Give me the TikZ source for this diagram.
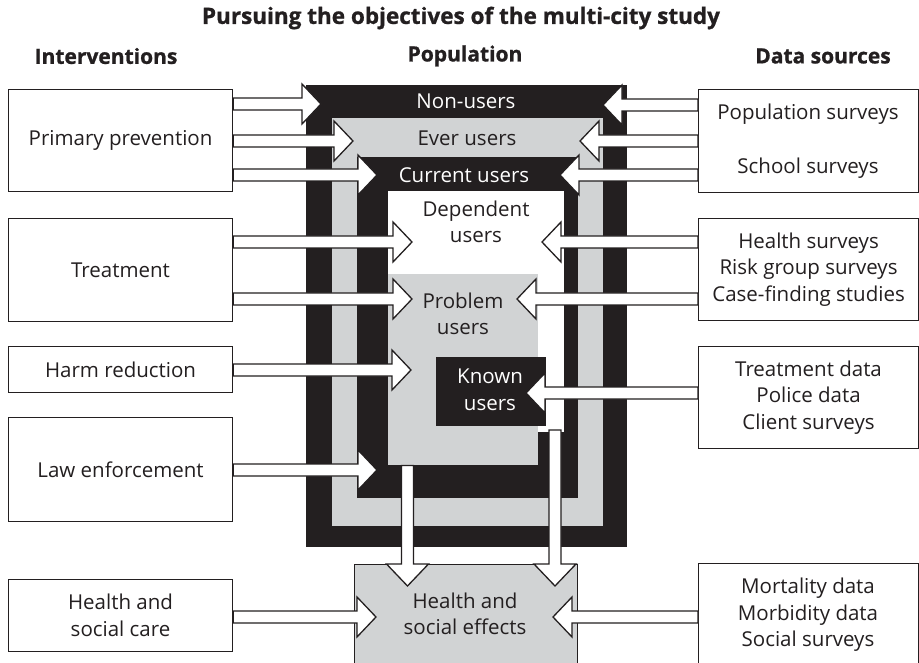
\documentclass[tikz,border=0pt]{standalone}
\usepackage{fontspec}
\setmainfont{Open Sans}
\usetikzlibrary{calc}
\definecolor{ink}{HTML}{231F20}
\definecolor{lgrey}{HTML}{D1D3D4}
\newcommand\rarr[2]{\draw[barrow] let \p1=(#1), \p2=(#2) in
  (\x1,\y2+6pt) -- (\x2-19pt,\y2+6pt) -- (\x2-19pt,\y2+20pt) -- (\x2,\y2) --
  (\x2-19pt,\y2-20pt) -- (\x2-19pt,\y2-6pt) -- (\x1,\y2-6pt) -- cycle;}
\newcommand\larr[2]{\draw[barrow] let \p1=(#1), \p2=(#2) in
  (\x1,\y2+6pt) -- (\x2+19pt,\y2+6pt) -- (\x2+19pt,\y2+20pt) -- (\x2,\y2) --
  (\x2+19pt,\y2-20pt) -- (\x2+19pt,\y2-6pt) -- (\x1,\y2-6pt) -- cycle;}
\newcommand\darr[2]{\draw[barrow] let \p1=(#1), \p2=(#2) in
  (\x2-6pt,\y1) -- (\x2-6pt,\y2+22pt) -- (\x2-21pt,\y2+22pt) -- (\x2,\y2) --
  (\x2+21pt,\y2+22pt) -- (\x2+6pt,\y2+22pt) -- (\x2+6pt,\y1) -- cycle;}
\begin{document}
\begin{tikzpicture}[x=1pt,y=-1pt,
  box/.style={draw=ink,line width=1.1pt,fill=white,anchor=north west,inner sep=0pt},
  txt/.style={text=ink,font=\fontsize{20.5}{26.5}\selectfont,align=center},
  wtxt/.style={text=white,font=\fontsize{20.5}{26.5}\selectfont,align=center},
  hdr/.style={text=ink,font=\bfseries\addfontfeature{FakeBold=1}\fontsize{21}{24}\selectfont},
  ttl/.style={text=ink,font=\bfseries\addfontfeature{FakeBold=1}\fontsize{22.5}{26}\selectfont},
  barrow/.style={fill=white,draw=ink,line width=1.3pt,line join=miter}]
\useasboundingbox (0,0) rectangle (919,663);
% titles
\node[ttl] (title) at (461,18) {Pursuing the objectives of the multi-city study};
\node[hdr] (hint) at (106,56) {Interventions};
\node[hdr] (hpop) at (465,56) {Population};
\node[hdr] (hdat) at (823,56) {Data sources};
% nested population frames
\fill[ink] (306,85) rectangle (627,547);
\fill[lgrey] (332,118) rectangle (603,526);
\fill[ink] (357,157) rectangle (578,498);
\fill[white] (388,191) rectangle (564,432);
\node[fill=lgrey,anchor=north west,minimum width=150,minimum height=191,inner sep=0pt] (prob) at (388,274) {};
\node[fill=ink,anchor=north west,minimum width=110,minimum height=69,inner sep=0pt] (known) at (436,357) {};
% left boxes
\node[box,minimum width=224,minimum height=102] (pp) at (8,89) {};
\node[box,minimum width=224,minimum height=103] (tr) at (8,218) {};
\node[box,minimum width=224,minimum height=46] (hr) at (8,346) {};
\node[box,minimum width=224,minimum height=104] (le) at (8,417) {};
\node[box,minimum width=224,minimum height=72] (hc) at (8,579) {};
% right boxes
\node[box,minimum width=220,minimum height=103] (ps) at (698,89) {};
\node[box,minimum width=220,minimum height=102] (hs) at (698,218) {};
\node[box,minimum width=220,minimum height=102] (td) at (698,346) {};
\node[box,minimum width=220,minimum height=110] (md) at (698,563) {};
% health and social effects
\node[box,fill=lgrey,minimum width=223,minimum height=110] (hse) at (354,564) {};
% arrow tips
\coordinate (L1) at (321,104);
\coordinate (L2) at (353,141);
\coordinate (L3) at (377,175);
\coordinate (L4) at (412,242);
\coordinate (L5) at (412,299);
\coordinate (L6) at (411,370);
\coordinate (L7) at (377,470);
\coordinate (L8) at (376,617);
\coordinate (R1) at (603,105);
\coordinate (R2) at (580,141);
\coordinate (R3) at (560,175);
\coordinate (R4) at (542,242);
\coordinate (R5) at (517,299);
\coordinate (R6) at (526,393);
\coordinate (R7) at (553,617);
\coordinate (D2s) at (555,430);
\coordinate (D1t) at (407.5,586);
\coordinate (D2t) at (555,586);
% arrows from interventions
\rarr{pp.east}{L1}
\rarr{pp.east}{L2}
\rarr{pp.east}{L3}
\rarr{tr.east}{L4}
\rarr{tr.east}{L5}
\rarr{hr.east}{L6}
\rarr{le.east}{L7}
\rarr{hc.east}{L8}
% arrows from data sources
\larr{ps.west}{R1}
\larr{ps.west}{R2}
\larr{ps.west}{R3}
\larr{hs.west}{R4}
\larr{hs.west}{R5}
\larr{td.west}{R6}
\larr{md.west}{R7}
% vertical arrows
\darr{prob.south}{D1t}
\darr{D2s}{D2t}
% texts
\node[wtxt] at (466,101) {Non-users};
\node[txt] at (467,138) {Ever users};
\node[wtxt] at (464,175) {Current users};
\node[txt] at (476,222) {Dependent\\users};
\node[txt] at (463,314) {Problem\\users};
\node[wtxt] at (490,390) {Known\\users};
\node[txt] at (465,614) {Health and\\social effects};
\node[txt] at (pp.center) {Primary prevention};
\node[txt] at (tr.center) {Treatment};
\node[txt] at (hr.center) {Harm reduction};
\node[txt] at (le.center) {Law enforcement};
\node[txt] at (hc.center) {Health and\\social care};
\node[txt] at (808,114) {Population surveys};
\node[txt] at (808,168) {School surveys};
\node[txt] at (hs.center) {Health surveys\\Risk group surveys\\Case-finding studies};
\node[txt] at (td.center) {Treatment data\\Police data\\Client surveys};
\node[txt] at (808,615) {Mortality data\\Morbidity data\\Social surveys};
\end{tikzpicture}
\end{document}
